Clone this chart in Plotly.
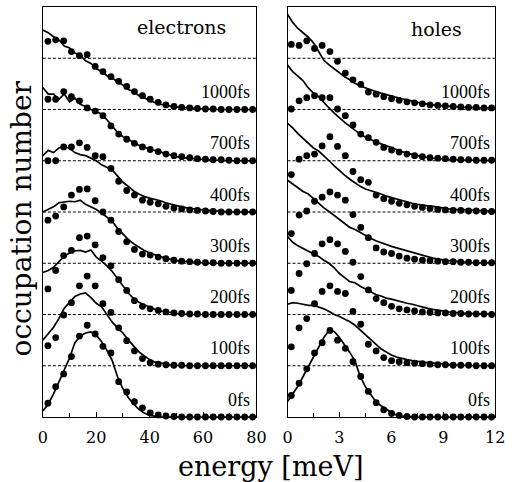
import plotly.graph_objects as go

# ---------------- data ----------------
time_labels = ["0fs", "100fs", "200fs", "300fs", "400fs", "700fs", "1000fs"]

# electrons: energies (meV)
elec_line_energy = [0, 2, 4, 6, 8, 10, 12, 14, 16, 18, 20, 22, 24, 26, 28, 30, 32, 34, 36, 38, 40,
                    42, 44, 46, 48, 50, 52, 54, 56, 58, 60, 62, 64, 66, 68, 70, 72, 74, 76, 78, 80]
elec_dot_energy = [1.9, 4.8, 7.8, 10.7, 13.7, 16.6, 19.6, 22.5, 25.5, 28.4, 31.4, 34.3, 37.3, 40.2,
                   43.2, 46.1, 49.1, 52.0, 55.0, 57.9, 60.9, 63.8, 66.8, 69.7, 72.7, 75.6, 78.6]

e_line_0fs = [0.12, 0.25, 0.45, 0.68, 0.9, 1.15, 1.45, 1.58, 1.64, 1.66, 1.6, 1.47, 1.3, 1.1, 0.78,
              0.55, 0.38, 0.25, 0.15, 0.08, 0.03, 0.01, 0, 0, 0, 0, 0, 0, 0, 0, 0, 0, 0, 0, 0, 0, 0, 0, 0, 0, 0]
e_line_100fs = [0.5, 0.62, 0.75, 0.92, 1.12, 1.24, 1.35, 1.4, 1.42, 1.33, 1.22, 1.15, 1.0, 0.85, 0.74,
                0.64, 0.5, 0.38, 0.27, 0.19, 0.12, 0.07, 0.05, 0.03, 0.02, 0.01,
                0, 0, 0, 0, 0, 0, 0, 0, 0, 0, 0, 0, 0, 0, 0]
e_line_200fs = [0.82, 0.86, 0.92, 1.03, 1.14, 1.2, 1.24, 1.25, 1.22, 1.26, 1.12, 1.04, 0.95, 0.84, 0.7,
                0.56, 0.42, 0.31, 0.24, 0.19, 0.14, 0.1, 0.07, 0.05, 0.03, 0.02, 0.01,
                0, 0, 0, 0, 0, 0, 0, 0, 0, 0, 0, 0, 0, 0]
e_line_300fs = [1.0, 1.05, 1.1, 1.18, 1.2, 1.21, 1.2, 1.23, 1.15, 1.1, 1.05, 0.98, 0.9, 0.82, 0.68,
                0.56, 0.46, 0.38, 0.31, 0.25, 0.2, 0.16, 0.13, 0.1, 0.07, 0.05, 0.04, 0.03, 0.02, 0.01,
                0, 0, 0, 0, 0, 0, 0, 0, 0, 0, 0]
e_line_400fs = [1.1, 1.2, 1.16, 1.25, 1.28, 1.24, 1.16, 1.12, 1.1, 1.05, 1.0, 0.92, 0.87, 0.82, 0.7,
                0.58, 0.5, 0.41, 0.35, 0.3, 0.27, 0.25, 0.22, 0.18, 0.15, 0.12, 0.1, 0.08, 0.06, 0.05,
                0.04, 0.03, 0.02, 0.02, 0.01, 0, 0, 0, 0, 0, 0]
e_line_700fs = [1.43, 1.3, 1.3, 1.2, 1.3, 1.15, 1.22, 1.1, 1.06, 1.0, 0.96, 0.91, 0.8, 0.68, 0.55,
                0.47, 0.42, 0.36, 0.3, 0.26, 0.23, 0.2, 0.17, 0.13, 0.1, 0.08, 0.06, 0.05, 0.04, 0.03,
                0.02, 0.02, 0.01, 0.01, 0, 0, 0, 0, 0, 0, 0]
e_line_1000fs = [1.55, 1.5, 1.42, 1.36, 1.24, 1.2, 1.1, 1.06, 0.95, 0.9, 0.8, 0.74, 0.66, 0.62, 0.53,
                 0.48, 0.39, 0.35, 0.27, 0.23, 0.17, 0.14, 0.1, 0.09, 0.06, 0.05, 0.04, 0.03, 0.02, 0.02,
                 0.01, 0.01, 0, 0, 0, 0, 0, 0, 0, 0, 0]

e_dots_0fs = [0.27, 0.59, 0.84, 1.18, 1.58, 1.79, 1.62, 1.38, 1.25, 0.69, 0.49, 0.30, 0.18, 0.08,
              0.04, 0.02, 0.01, 0, 0, 0, 0, 0, 0, 0, 0, 0, 0]
e_dots_100fs = [0.39, 0.55, 0.99, 1.23, 1.56, 1.75, 1.56, 1.21, 1.04, 0.74, 0.49, 0.29, 0.14, 0.06,
                0.03, 0.02, 0.01, 0.01, 0, 0, 0, 0, 0, 0, 0, 0, 0]
e_dots_200fs = [0.50, 0.86, 1.15, 1.25, 1.5, 1.53, 1.36, 1.11, 0.95, 0.68, 0.47, 0.27, 0.16, 0.11,
                0.08, 0.05, 0.03, 0.02, 0.01, 0.01, 0, 0, 0, 0, 0, 0, 0]
e_dots_300fs = [0.84, 0.92, 1.1, 1.33, 1.44, 1.45, 1.22, 1.0, 0.84, 0.62, 0.42, 0.27, 0.18, 0.16,
                0.12, 0.09, 0.06, 0.04, 0.03, 0.02, 0.01, 0.01, 0, 0, 0, 0, 0]
e_dots_400fs = [1.0, 1.0, 1.27, 1.27, 1.35, 1.26, 1.1, 1.08, 0.85, 0.6, 0.42, 0.33, 0.23, 0.19,
                0.16, 0.11, 0.08, 0.06, 0.04, 0.03, 0.02, 0.01, 0, 0, 0, 0, 0]
e_dots_700fs = [1.2, 1.2, 1.35, 1.25, 1.17, 1.03, 0.97, 0.88, 0.68, 0.52, 0.42, 0.34, 0.27, 0.22,
                0.18, 0.13, 0.1, 0.08, 0.06, 0.04, 0.03, 0.02, 0.02, 0.01, 0, 0, 0]
e_dots_1000fs = [1.33, 1.36, 1.34, 1.13, 1.05, 1.07, 0.84, 0.74, 0.64, 0.55, 0.45, 0.35, 0.27, 0.2,
                 0.14, 0.09, 0.06, 0.04, 0.03, 0.02, 0.01, 0.01, 0, 0, 0, 0, 0]

# holes: energies (meV)
hole_line_energy = [0, 0.3, 0.6, 0.9, 1.2, 1.5, 1.8, 2.1, 2.4, 2.7, 3.0, 3.3, 3.6, 3.9, 4.2, 4.5, 4.8,
                    5.1, 5.4, 5.7, 6.0, 6.3, 6.6, 6.9, 7.2, 7.5, 7.8, 8.1, 8.4, 8.7, 9.0, 9.3, 9.6,
                    9.9, 10.2, 10.5, 10.8, 11.1, 11.4, 11.7, 12.0]
hole_dot_energy = [0.22, 0.67, 1.11, 1.56, 2.0, 2.45, 2.89, 3.34, 3.78, 4.23, 4.67, 5.12, 5.56, 6.01,
                   6.45, 6.9, 7.34, 7.79, 8.23, 8.68, 9.12, 9.57, 10.01, 10.46, 10.9, 11.35, 11.79]

h_line_0fs = [0.3, 0.44, 0.6, 0.79, 0.98, 1.19, 1.38, 1.55, 1.69, 1.67, 1.55, 1.41, 1.26, 1.09, 0.79,
              0.59, 0.44, 0.3, 0.22, 0.16, 0.08, 0.04, 0.02, 0.01,
              0, 0, 0, 0, 0, 0, 0, 0, 0, 0, 0, 0, 0, 0, 0, 0, 0]
h_line_100fs = [1.2, 1.23, 1.22, 1.2, 1.18, 1.18, 1.15, 1.11, 1.06, 1.0, 0.96, 0.91, 0.86, 0.79, 0.7,
                0.6, 0.5, 0.41, 0.33, 0.27, 0.21, 0.17, 0.14, 0.12, 0.1, 0.08, 0.07, 0.06, 0.05, 0.04,
                0.03, 0.02, 0.02, 0.01, 0.01, 0, 0, 0, 0, 0, 0]
h_line_200fs = [1.52, 1.41, 1.34, 1.29, 1.23, 1.19, 1.13, 1.06, 1.0, 0.91, 0.8, 0.72, 0.64, 0.62, 0.55,
                0.5, 0.45, 0.39, 0.36, 0.32, 0.3, 0.27, 0.25, 0.22, 0.2, 0.17, 0.15, 0.12, 0.1, 0.08,
                0.07, 0.05, 0.04, 0.03, 0.03, 0.02, 0.02, 0.01, 0.01, 0.01, 0.01]
h_line_300fs = [1.62, 1.55, 1.47, 1.4, 1.35, 1.26, 1.16, 1.08, 1.01, 0.93, 0.85, 0.77, 0.7, 0.66, 0.6,
                0.54, 0.49, 0.44, 0.4, 0.36, 0.33, 0.3, 0.27, 0.24, 0.21, 0.18, 0.15, 0.12, 0.1, 0.08,
                0.06, 0.05, 0.04, 0.03, 0.02, 0.02, 0.01, 0.01, 0.01, 0.01, 0.01]
h_line_400fs = [1.73, 1.64, 1.53, 1.43, 1.35, 1.25, 1.19, 1.1, 1.0, 0.9, 0.8, 0.72, 0.64, 0.57, 0.5,
                0.45, 0.42, 0.38, 0.35, 0.31, 0.28, 0.25, 0.23, 0.2, 0.17, 0.15, 0.13, 0.12, 0.11, 0.09,
                0.07, 0.06, 0.05, 0.05, 0.04, 0.04, 0.03, 0.03, 0.03, 0.02, 0.02]
h_line_700fs = [1.87, 1.74, 1.65, 1.56, 1.42, 1.32, 1.25, 1.15, 1.03, 0.93, 0.83, 0.75, 0.67, 0.59, 0.52,
                0.46, 0.41, 0.37, 0.33, 0.29, 0.25, 0.21, 0.18, 0.15, 0.12, 0.1, 0.08, 0.06, 0.05, 0.04,
                0.03, 0.03, 0.02, 0.02, 0.01, 0.01, 0.01, 0.01, 0, 0, 0]
h_line_1000fs = [1.86, 1.7, 1.58, 1.49, 1.41, 1.3, 1.14, 0.96, 0.87, 0.79, 0.72, 0.64, 0.58, 0.51, 0.46,
                 0.42, 0.38, 0.35, 0.32, 0.29, 0.27, 0.24, 0.21, 0.19, 0.16, 0.14, 0.12, 0.1, 0.09, 0.08,
                 0.07, 0.06, 0.05, 0.05, 0.04, 0.04, 0.03, 0.03, 0.03, 0.03, 0.03]

h_dots_0fs = [0.42, 0.66, 0.94, 1.25, 1.45, 1.69, 1.5, 1.34, 1.08, 0.79, 0.5, 0.28, 0.14, 0.07, 0.03,
              0.01, 0, 0, 0, 0, 0, 0, 0, 0, 0, 0, 0]
h_dots_100fs = [0.37, 0.74, 0.92, 1.21, 1.45, 1.56, 1.45, 1.41, 1.06, 0.81, 0.42, 0.29, 0.16, 0.1, 0.08,
                0.06, 0.05, 0.04, 0.03, 0.02, 0.02, 0.01, 0.01, 0.01, 0, 0, 0]
h_dots_200fs = [0.47, 0.8, 0.99, 1.19, 1.38, 1.46, 1.38, 1.23, 1.02, 0.74, 0.48, 0.31, 0.23, 0.16, 0.11,
                0.09, 0.07, 0.05, 0.04, 0.03, 0.03, 0.02, 0.02, 0.01, 0.01, 0.01, 0]
h_dots_300fs = [0.58, 0.94, 1.02, 1.21, 1.29, 1.39, 1.33, 1.23, 0.95, 0.7, 0.5, 0.3, 0.22, 0.19, 0.14,
                0.1, 0.08, 0.06, 0.05, 0.04, 0.03, 0.03, 0.02, 0.02, 0.01, 0.01, 0.01]
h_dots_400fs = [0.73, 1.03, 1.1, 1.13, 1.29, 1.47, 1.28, 1.1, 0.79, 0.63, 0.58, 0.33, 0.26, 0.21, 0.17,
                0.14, 0.11, 0.09, 0.07, 0.05, 0.04, 0.03, 0.03, 0.02, 0.02, 0.01, 0.01]
h_dots_700fs = [1.01, 1.17, 1.23, 1.27, 1.23, 1.23, 1.01, 0.88, 0.7, 0.52, 0.45, 0.36, 0.26, 0.21, 0.17,
                0.13, 0.1, 0.08, 0.06, 0.05, 0.04, 0.03, 0.02, 0.02, 0.01, 0.01, 0.01]
h_dots_1000fs = [1.27, 1.25, 1.34, 1.19, 1.25, 1.13, 0.94, 0.71, 0.58, 0.49, 0.34, 0.3, 0.25, 0.21, 0.18,
                 0.15, 0.13, 0.11, 0.09, 0.08, 0.07, 0.06, 0.05, 0.04, 0.04, 0.03, 0.03]

elec_lines = [e_line_0fs, e_line_100fs, e_line_200fs, e_line_300fs, e_line_400fs, e_line_700fs, e_line_1000fs]
elec_dots = [e_dots_0fs, e_dots_100fs, e_dots_200fs, e_dots_300fs, e_dots_400fs, e_dots_700fs, e_dots_1000fs]
hole_lines = [h_line_0fs, h_line_100fs, h_line_200fs, h_line_300fs, h_line_400fs, h_line_700fs, h_line_1000fs]
hole_dots = [h_dots_0fs, h_dots_100fs, h_dots_200fs, h_dots_300fs, h_dots_400fs, h_dots_700fs, h_dots_1000fs]

# ---------------- figure ----------------
W, H = 514, 482
fig = go.Figure()

panels = [
    ("x", "y", elec_line_energy, elec_lines, elec_dot_energy, elec_dots),
    ("x2", "y2", hole_line_energy, hole_lines, hole_dot_energy, hole_dots),
]
for xa, ya, lx, lines, dx, dots in panels:
    for k, (lv, dv) in enumerate(zip(lines, dots)):
        n = min(len(lx), len(lv))
        fig.add_trace(go.Scatter(x=lx[:n], y=[v + k for v in lv[:n]], mode="lines",
                                 line=dict(color="black", width=1.7), xaxis=xa, yaxis=ya,
                                 showlegend=False, hoverinfo="skip"))
        m = min(len(dx), len(dv))
        fig.add_trace(go.Scatter(x=dx[:m], y=[v + k for v in dv[:m]], mode="markers",
                                 marker=dict(color="black", size=6.8), xaxis=xa, yaxis=ya,
                                 cliponaxis=False, showlegend=False, hoverinfo="skip"))

# dashed baselines
for xr, yr in [("x domain", "y"), ("x2 domain", "y2")]:
    for k in range(1, 8):
        fig.add_shape(type="line", xref=xr, yref=yr, x0=0, x1=1, y0=k, y1=k,
                      line=dict(color="black", width=1, dash="3px,2px"), layer="below")

ydom = [1 - 417 / H, 1 - 7 / H]
axis_common = dict(showline=True, mirror=True, linecolor="black", linewidth=1.3,
                   showgrid=False, zeroline=False)
tickfont = dict(family="DejaVu Serif", size=16, color="black")
fig.update_layout(
    width=W, height=H, margin=dict(l=0, r=0, t=0, b=0),
    paper_bgcolor="white", plot_bgcolor="white",
    xaxis=dict(domain=[39 / W, 259 / W], range=[0, 80], anchor="y", ticks="inside", ticklen=5,
               tickvals=[0, 20, 40, 60, 80], tickcolor="black", tickfont=tickfont,
               minor=dict(dtick=10, ticks="inside", ticklen=4, tickcolor="black"),
               ticklabelstandoff=6, **axis_common),
    yaxis=dict(domain=ydom, range=[0, 8], anchor="x", showticklabels=False, ticks="", **axis_common),
    xaxis2=dict(domain=[291 / W, 505 / W], range=[0, 12], anchor="y2", ticks="inside", ticklen=5,
                tickvals=[0, 3, 6, 9, 12], tickcolor="black", tickfont=tickfont,
                minor=dict(dtick=1.5, ticks="inside", ticklen=4, tickcolor="black"),
                ticklabelstandoff=6, **axis_common),
    yaxis2=dict(domain=ydom, range=[0, 8], anchor="x2", showticklabels=False, ticks="", **axis_common),
)

labfont = dict(family="Liberation Serif", size=18, color="black")
for k, lab in enumerate(time_labels):
    fig.add_annotation(x=78.5, y=k + 0.34, xref="x", yref="y", text=lab, showarrow=False,
                       xanchor="right", yanchor="middle", font=labfont)
    fig.add_annotation(x=11.83, y=k + 0.34, xref="x2", yref="y2", text=lab, showarrow=False,
                       xanchor="right", yanchor="middle", font=labfont)

panelfont = dict(family="DejaVu Serif", size=19, color="black")
fig.add_annotation(x=51.8, y=7.61, xref="x", yref="y", text="electrons", showarrow=False,
                   xanchor="center", yanchor="middle", font=panelfont)
fig.add_annotation(x=8.58, y=7.57, xref="x2", yref="y2", text="holes", showarrow=False,
                   xanchor="center", yanchor="middle", font=panelfont)

fig.add_annotation(x=274 / W, y=1 - 466 / H, xref="paper", yref="paper", text="energy [meV]",
                   showarrow=False, xanchor="center", yanchor="middle",
                   font=dict(family="DejaVu Serif", size=27, color="black"))
fig.add_annotation(x=18 / W, y=1 - 218 / H, xref="paper", yref="paper", text="occupation number",
                   showarrow=False, xanchor="center", yanchor="middle", textangle=-90,
                   font=dict(family="DejaVu Serif", size=28, color="black"))

fig.write_html("out.html", config={"displayModeBar": False},
               post_script="document.body.style.margin='0';document.body.style.overflow='hidden';")
